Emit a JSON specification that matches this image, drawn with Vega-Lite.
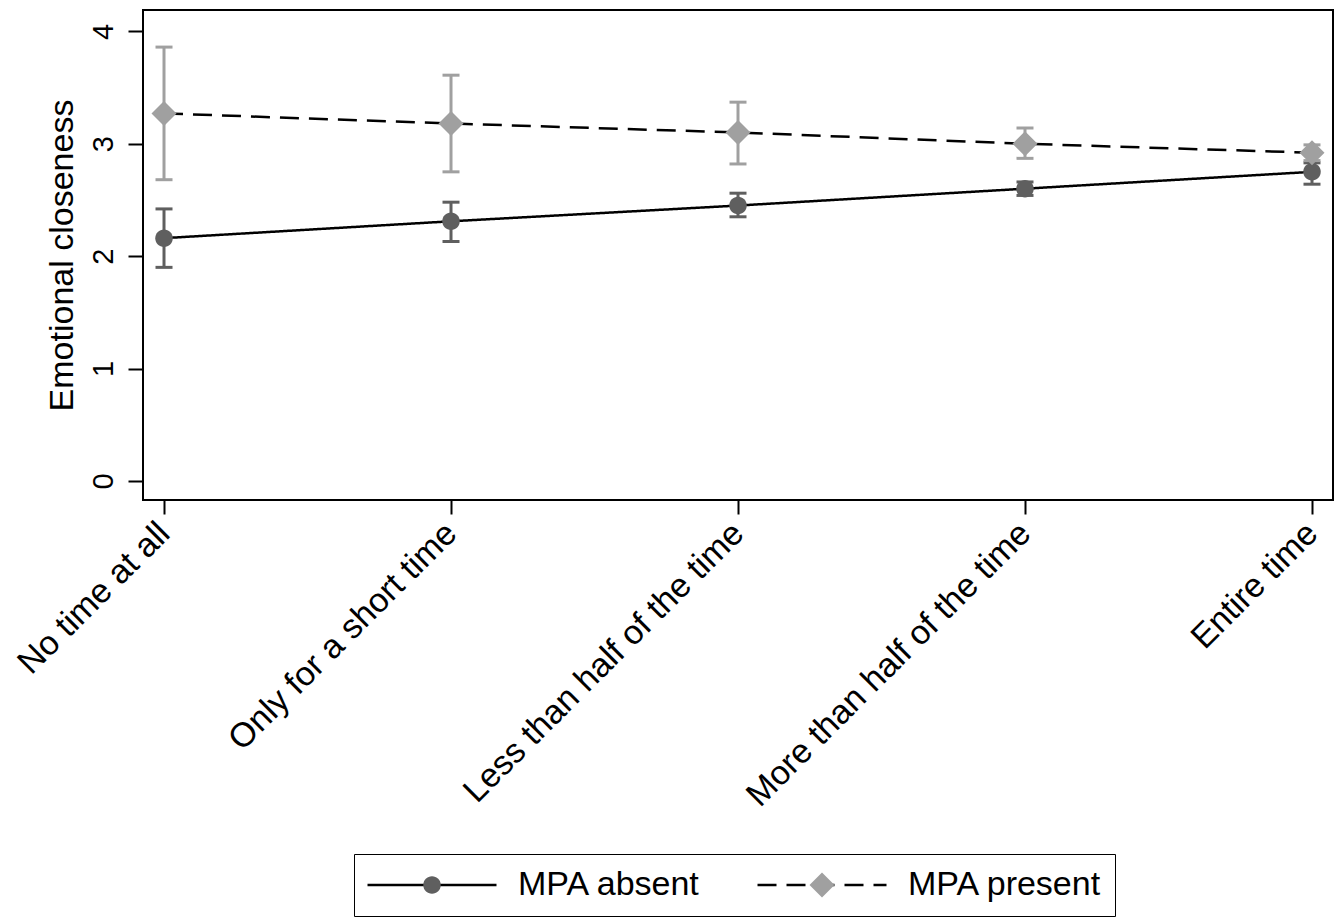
{
  "$schema": "https://vega.github.io/schema/vega-lite/v6.json",
  "width": 1190,
  "height": 490,
  "autosize": {"type": "none"},
  "padding": {"left": 143, "top": 10, "right": 3, "bottom": 417},
  "background": "white",
  "config": {
    "font": "Liberation Sans",
    "view": {"stroke": "black", "strokeWidth": 2},
    "axis": {"domain": false, "grid": false, "tickColor": "black", "tickWidth": 2, "labelColor": "black", "titleColor": "black", "titleFontWeight": "normal", "labelLimit": 0}
  },
  "data": {
    "values": [
      {"cat": "No time at all", "grp": "MPA absent", "series": "MPA absent", "mean": 2.16, "lo": 1.90, "hi": 2.42},
      {"cat": "Only for a short time", "grp": "MPA absent", "series": "MPA absent", "mean": 2.31, "lo": 2.13, "hi": 2.48},
      {"cat": "Less than half of the time", "grp": "MPA absent", "series": "MPA absent", "mean": 2.45, "lo": 2.35, "hi": 2.56},
      {"cat": "More than half of the time", "grp": "MPA absent", "series": "MPA absent", "mean": 2.60, "lo": 2.54, "hi": 2.66},
      {"cat": "Entire time", "grp": "MPA absent", "series": "MPA absent", "mean": 2.75, "lo": 2.64, "hi": 2.83},
      {"cat": "No time at all", "grp": "MPA present", "series": "MPA present", "mean": 3.27, "lo": 2.68, "hi": 3.86},
      {"cat": "Only for a short time", "grp": "MPA present", "series": "MPA present", "mean": 3.18, "lo": 2.75, "hi": 3.61},
      {"cat": "Less than half of the time", "grp": "MPA present", "series": "MPA present", "mean": 3.10, "lo": 2.82, "hi": 3.37},
      {"cat": "More than half of the time", "grp": "MPA present", "series": "MPA present", "mean": 3.00, "lo": 2.87, "hi": 3.14},
      {"cat": "Entire time", "grp": "MPA present", "series": "MPA present", "mean": 2.92, "lo": 2.85, "hi": 2.99}
    ]
  },
  "layer": [
    {
      "transform": [{"filter": "datum.grp === 'MPA absent'"}],
      "layer": [
        {
          "mark": {"type": "rule", "strokeWidth": 3, "color": "#5f5f5f"},
          "encoding": {
            "x": {"field": "cat", "type": "ordinal", "sort": ["No time at all", "Only for a short time", "Less than half of the time", "More than half of the time", "Entire time"], "scale": {"type": "point", "padding": 0.0732}, "title": null,
              "axis": {"labelAngle": -45, "labelAlign": "right", "labelBaseline": "middle", "labelFontSize": 34, "tickSize": 14, "labelPadding": 14, "labelLimit": 0}},
            "y": {"field": "lo", "type": "quantitative", "title": "Emotional closeness", "scale": {"domain": [-0.17, 4.19], "nice": false, "zero": false},
              "axis": {"values": [0, 1, 2, 3, 4], "format": "d", "labelAngle": -90, "labelAlign": "center", "labelBaseline": "alphabetic", "labelFontSize": 29, "tickSize": 15, "labelPadding": 16, "titleFontSize": 34, "titlePadding": 10}},
            "y2": {"field": "hi"}
          }
        },
        {
          "mark": {"type": "tick", "thickness": 3, "size": 17, "orient": "horizontal", "color": "#5f5f5f", "opacity": 1},
          "encoding": {
            "x": {"field": "cat", "type": "ordinal", "sort": ["No time at all", "Only for a short time", "Less than half of the time", "More than half of the time", "Entire time"], "title": null},
            "y": {"field": "lo", "type": "quantitative", "title": "Emotional closeness"}
          }
        },
        {
          "mark": {"type": "tick", "thickness": 3, "size": 17, "orient": "horizontal", "color": "#5f5f5f", "opacity": 1},
          "encoding": {
            "x": {"field": "cat", "type": "ordinal", "sort": ["No time at all", "Only for a short time", "Less than half of the time", "More than half of the time", "Entire time"], "title": null},
            "y": {"field": "hi", "type": "quantitative", "title": "Emotional closeness"}
          }
        }
      ]
    },
    {
      "transform": [{"filter": "datum.grp === 'MPA present'"}],
      "layer": [
        {
          "mark": {"type": "rule", "strokeWidth": 3, "color": "#a0a0a0"},
          "encoding": {
            "x": {"field": "cat", "type": "ordinal", "sort": ["No time at all", "Only for a short time", "Less than half of the time", "More than half of the time", "Entire time"], "title": null},
            "y": {"field": "lo", "type": "quantitative", "title": "Emotional closeness"},
            "y2": {"field": "hi"}
          }
        },
        {
          "mark": {"type": "tick", "thickness": 3, "size": 17, "orient": "horizontal", "color": "#a0a0a0", "opacity": 1},
          "encoding": {
            "x": {"field": "cat", "type": "ordinal", "sort": ["No time at all", "Only for a short time", "Less than half of the time", "More than half of the time", "Entire time"], "title": null},
            "y": {"field": "lo", "type": "quantitative", "title": "Emotional closeness"}
          }
        },
        {
          "mark": {"type": "tick", "thickness": 3, "size": 17, "orient": "horizontal", "color": "#a0a0a0", "opacity": 1},
          "encoding": {
            "x": {"field": "cat", "type": "ordinal", "sort": ["No time at all", "Only for a short time", "Less than half of the time", "More than half of the time", "Entire time"], "title": null},
            "y": {"field": "hi", "type": "quantitative", "title": "Emotional closeness"}
          }
        }
      ]
    },
    {
      "mark": {"type": "line", "color": "black", "strokeWidth": 2.5},
      "encoding": {
        "x": {"field": "cat", "type": "ordinal", "sort": ["No time at all", "Only for a short time", "Less than half of the time", "More than half of the time", "Entire time"], "title": null},
        "y": {"field": "mean", "type": "quantitative", "title": "Emotional closeness"},
        "strokeDash": {"field": "series", "type": "nominal", "scale": {"domain": ["MPA absent", "MPA present"], "range": [[1, 0], [19, 10]]},
          "legend": {"orient": "none", "legendX": 211, "legendY": 844, "direction": "horizontal", "title": null, "symbolType": "stroke", "symbolSize": 16641, "clipHeight": 38, "padding": 12, "labelFontSize": 34, "labelLimit": 0, "labelOffset": 20, "columnPadding": 55, "symbolStrokeWidth": 2.5, "symbolStrokeColor": "black", "labelColor": "black", "zindex": 1}}
      }
    },
    {
      "mark": {"type": "point", "filled": true, "opacity": 1, "size": 625},
      "encoding": {
        "x": {"field": "cat", "type": "ordinal", "sort": ["No time at all", "Only for a short time", "Less than half of the time", "More than half of the time", "Entire time"], "title": null},
        "y": {"field": "mean", "type": "quantitative", "title": "Emotional closeness"},
        "shape": {"field": "grp", "type": "nominal", "scale": {"range": ["M0.7,0A0.7,0.7,0,1,1,-0.7,0A0.7,0.7,0,1,1,0.7,0Z", "M0,-1L1,0L0,1L-1,0Z"]},
          "legend": {"orient": "none", "legendX": 211, "legendY": 844, "direction": "horizontal", "title": null, "symbolSize": 625, "clipHeight": 38, "padding": 12, "labelFontSize": 34, "labelLimit": 0, "labelOffset": 20, "columnPadding": 55, "symbolStrokeWidth": 107, "symbolStrokeColor": "transparent", "symbolFillColor": "#a0a0a0", "symbolOpacity": 1, "labelColor": "transparent", "zindex": 2, "strokeColor": "black"}},
        "color": {"field": "grp", "type": "nominal", "scale": {"range": ["#5f5f5f", "#a0a0a0"]},
          "legend": {"orient": "none", "legendX": 211, "legendY": 844, "direction": "horizontal", "title": null, "symbolSize": 625, "clipHeight": 38, "padding": 12, "labelFontSize": 34, "labelLimit": 0, "labelOffset": 20, "columnPadding": 55, "symbolStrokeWidth": 107, "symbolStrokeColor": "transparent", "symbolFillColor": "#a0a0a0", "symbolOpacity": 1, "labelColor": "transparent", "zindex": 2, "strokeColor": "black"}}
      }
    }
  ]
}
